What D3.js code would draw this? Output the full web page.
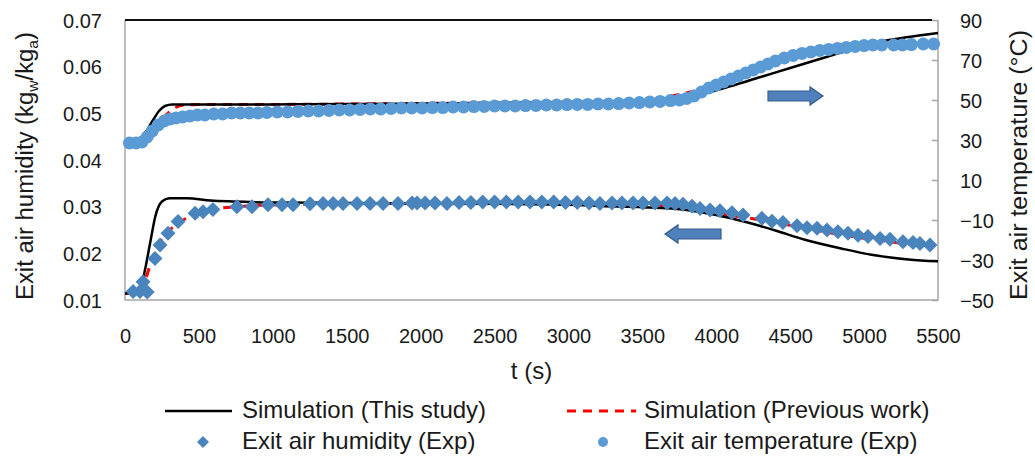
<!DOCTYPE html>
<html>
<head>
<meta charset="utf-8">
<script src="https://cdn.jsdelivr.net/npm/d3@7"></script>
<style>
  html, body { margin: 0; padding: 0; background: #fff; }
  svg { display: block; font-family: 'Liberation Sans', Arial, sans-serif; }
  text { fill: #1a1a1a; }
</style>
</head>
<body>
<svg id="chart" width="1035" height="461"></svg>
<script>
'use strict';
// time ticks
var tTicks = [0, 500, 1000, 1500, 2000, 2500, 3000, 3500, 4000, 4500, 5000, 5500];
var humTicks = [0.01, 0.02, 0.03, 0.04, 0.05, 0.06, 0.07];
var tempTicks = [-50, -30, -10, 10, 30, 50, 70, 90];

// simulation (this study) - humidity
var simHumT = [0, 100, 135, 170, 205, 250, 300, 420, 580, 730, 1000, 1500, 2000, 2500, 3000, 3250, 3500, 3800, 4000, 4200, 4400, 4600, 4850, 5050, 5300, 5500];
var simHum = [0.0114, 0.0118, 0.0164, 0.0222, 0.0279, 0.0311, 0.0318, 0.0318, 0.0313, 0.0311, 0.0309, 0.0308, 0.0307, 0.0306, 0.0304, 0.0301, 0.0299, 0.0293, 0.0282, 0.0267, 0.0249, 0.0229, 0.0210, 0.0197, 0.0187, 0.0183];

// simulation (previous work) - humidity
var prevHumT = [0, 100, 140, 180, 220, 270, 330, 420, 520, 650, 800, 1200, 2000, 3000, 3400, 3700, 3900, 4100, 4300, 4500, 4700, 4900, 5100, 5300, 5500];
var prevHum = [0.0114, 0.0116, 0.0145, 0.0185, 0.0215, 0.0238, 0.0258, 0.0276, 0.0289, 0.0297, 0.0301, 0.0305, 0.0307, 0.0307, 0.0306, 0.0300, 0.0291, 0.0281, 0.0272, 0.0260, 0.0248, 0.0237, 0.0228, 0.0220, 0.0214];

// simulation (this study) - temperature
var simTempT = [0, 60, 110, 150, 190, 230, 270, 320, 400, 600, 1000, 1500, 2000, 2500, 3000, 3400, 3700, 3900, 4100, 4300, 4500, 4700, 4900, 5100, 5300, 5500];
var simTemp = [29.5, 30, 31, 35, 40, 44.5, 47, 47.8, 47.8, 47.8, 47.8, 48, 48.2, 48.5, 49, 49.5, 50.5, 53, 57, 61.5, 66, 70.5, 75, 79, 81.5, 83.5];

// simulation (previous work) - temperature
var prevTempT = [0, 100, 150, 200, 250, 300, 350, 400, 600, 1000, 2000, 3000, 3500, 3700, 3900, 4100, 4300, 4500, 4700, 4900, 5100, 5300, 5500];
var prevTemp = [29.5, 30, 31, 35, 40, 44, 46.5, 47.5, 47.8, 47.8, 48.3, 48.8, 49.5, 52, 55.5, 60.5, 66, 71, 74.5, 76.5, 77.5, 78, 78.5];

// experiment - exit air humidity
var expHumT = [55, 101, 122, 150, 203, 237, 291, 359, 474, 528, 595, 757, 859, 967, 1062, 1137, 1252, 1340, 1408, 1475, 1570, 1658, 1746, 1847, 1942, 1976, 2030, 2097, 2178,
  2260, 2340, 2420, 2500, 2580, 2660, 2740, 2820, 2900, 2980, 3060, 3140,
  3213, 3295, 3362, 3437, 3504, 3585, 3667, 3721, 3775, 3836, 3890, 3958, 4025, 4106, 4181, 4309, 4377, 4451, 4546, 4614, 4682, 4749, 4823, 4891, 4959, 5026, 5108, 5175, 5263, 5331, 5378, 5446];
var expHum = [0.0118, 0.0118, 0.0139, 0.0117, 0.0189, 0.0218, 0.0243, 0.0268, 0.0286, 0.0289, 0.0294, 0.0300, 0.0300, 0.0304, 0.0304, 0.0304, 0.0306, 0.0307, 0.0307, 0.0307, 0.0307, 0.0307, 0.0307, 0.0307, 0.0308, 0.0308, 0.0308, 0.0308, 0.0307,
  0.0309, 0.0309, 0.0310, 0.0310, 0.0310, 0.0310, 0.0310, 0.0310, 0.0310, 0.0309, 0.0309, 0.0308,
  0.0307, 0.0308, 0.0308, 0.0308, 0.0308, 0.0308, 0.0308, 0.0307, 0.0305, 0.0301, 0.0296, 0.0293, 0.0291, 0.0287, 0.0282, 0.0275, 0.0269, 0.0266, 0.0259, 0.0255, 0.0254, 0.0250, 0.0246, 0.0243, 0.0239, 0.0236, 0.0232, 0.0230, 0.0225, 0.0223, 0.0221, 0.0218];

// experiment - exit air temperature
var expTempT = [30, 75, 115, 150, 185, 225, 265, 305, 345, 390, 440, 490, 540, 600, 660, 720, 780, 840, 900, 960, 1030, 1100, 1170, 1240, 1310, 1380, 1450, 1520, 1590, 1660, 1730, 1800, 1870, 1940, 2010, 2080, 2150, 2220, 2290, 2360, 2430, 2500, 2570, 2640, 2710, 2780, 2850, 2920, 2990, 3060, 3130, 3200, 3270, 3340, 3410, 3480, 3550, 3620, 3690, 3750, 3800, 3850, 3900, 3950, 4000, 4050, 4100, 4150, 4200, 4250, 4300, 4350, 4400, 4460, 4520, 4580, 4640, 4700, 4760, 4820, 4880, 4940, 5000, 5060, 5120, 5200, 5260, 5320, 5400, 5470];
var expTemp = [28.5, 28.5, 29, 31.5, 34.5, 37.5, 39.5, 40.5, 41, 41.5, 42, 42.5, 42.5, 43, 43, 43.5, 43.5, 43.5, 43.5, 43.8, 44, 44, 44.3, 44.5, 44.5, 44.8, 45, 45, 45.3, 45.5, 45.5, 45.8, 46, 46, 46, 46.2, 46.2, 46.5, 46.5, 46.7, 46.8, 47, 47, 47, 47.2, 47.3, 47.5, 47.5, 47.7, 47.8, 47.8, 48, 48, 48.2, 48.5, 48.7, 49, 49.3, 49.7, 50, 50.8, 52, 54, 56, 57.5, 59, 60.5, 62, 63.5, 65, 66.5, 68, 69.5, 71, 72.3, 73.3, 74, 74.8, 75.3, 75.8, 76.3, 76.8, 77.2, 77.5, 77.5, 77.5, 77.5, 77.7, 78, 78];

// direction arrows: [t tail, t tip, value]
var arrowTemp = [4350, 4722, 52];
var arrowHum = [4032, 3653, 0.02414];

var legendItems = [
  { label: 'Simulation (This study)', kind: 'line' },
  { label: 'Simulation (Previous work)', kind: 'dash' },
  { label: 'Exit air humidity (Exp)', kind: 'diamond' },
  { label: 'Exit air temperature (Exp)', kind: 'circle' }
];

(() => {
  const left = 125, right = 938, top = 20, bottom = 300;
  const blueC = '#5b9bd5', blueD = '#4a84bd';
  var svg = d3.select('#chart');
  svg.append('rect').attr('width', 1035).attr('height', 461).attr('fill', '#fff');

  var x = d3.scaleLinear().domain([0, 5500]).range([left, right]);
  var yH = d3.scaleLinear().domain([0.01, 0.07]).range([bottom, top]);
  var yT = d3.scaleLinear().domain([-50, 90]).range([bottom, top]);

  // frame
  svg.append('path')
    .attr('d', `M${left},${top}V${bottom}H${right}V${top}`)
    .attr('fill', 'none').attr('stroke', '#a6a6a6').attr('stroke-width', 1.5);
  svg.append('line')
    .attr('x1', left).attr('x2', right - 6).attr('y1', top).attr('y2', top)
    .attr('stroke', '#111').attr('stroke-width', 2);

  // axes
  var gx = svg.append('g').attr('transform', `translate(0,${bottom + 43})`)
    .call(d3.axisBottom(x).tickValues(tTicks).tickSize(0).tickPadding(0).tickFormat(d3.format('d')));
  gx.select('.domain').remove();
  gx.selectAll('text').attr('dy', 0).attr('font-size', 20);

  var gl = svg.append('g').attr('transform', `translate(${left - 23},0)`)
    .call(d3.axisLeft(yH).tickValues(humTicks).tickSize(0).tickPadding(0).tickFormat(d3.format('.2f')));
  gl.select('.domain').remove();
  gl.selectAll('text').attr('font-size', 20).attr('dy', '0.35em');

  var gr = svg.append('g').attr('transform', `translate(${right},0)`)
    .call(d3.axisRight(yT).tickValues(tempTicks).tickSize(-6).tickPadding(28).tickFormat(d3.format('d')));
  gr.select('.domain').remove();
  gr.selectAll('line').attr('stroke', '#a6a6a6').attr('stroke-width', 1.5);
  gr.selectAll('text').attr('font-size', 20).attr('dy', '0.35em').attr('x', 22);
  svg.selectAll('.tick text').attr('fill', '#1a1a1a').attr('font-family', "'Liberation Sans', Arial, sans-serif");

  // axis titles
  var lt = svg.append('text')
    .attr('transform', 'translate(33,166) rotate(-90)')
    .attr('text-anchor', 'middle').attr('font-size', 23)
    .attr('textLength', 268).attr('lengthAdjust', 'spacingAndGlyphs');
  lt.append('tspan').text('Exit air humidity (kg');
  lt.append('tspan').attr('font-size', 15).attr('dy', 5).text('w');
  lt.append('tspan').attr('dy', -5).text('/kg');
  lt.append('tspan').attr('font-size', 15).attr('dy', 5).text('a');
  lt.append('tspan').attr('dy', -5).text(')');

  svg.append('text')
    .attr('transform', 'translate(1027,165) rotate(-90)')
    .attr('text-anchor', 'middle').attr('font-size', 23)
    .attr('textLength', 270).attr('lengthAdjust', 'spacingAndGlyphs')
    .text('Exit air temperature (\u00b0C)');

  svg.append('text').attr('x', (left + right) / 2).attr('y', 379)
    .attr('text-anchor', 'middle').attr('font-size', 24).text('t (s)');

  // lines
  function series(ts, vs) { return ts.map((t, i) => [t, vs[i]]); }
  var lineH = d3.line().x(d => x(d[0])).y(d => yH(d[1])).curve(d3.curveMonotoneX);
  var lineT = d3.line().x(d => x(d[0])).y(d => yT(d[1])).curve(d3.curveMonotoneX);

  var glines = svg.append('g').attr('fill', 'none');
  glines.append('path').attr('d', lineH(series(prevHumT, prevHum)))
    .attr('stroke', '#ff0000').attr('stroke-width', 3).attr('stroke-dasharray', '9,7');
  glines.append('path').attr('d', lineT(series(prevTempT, prevTemp)))
    .attr('stroke', '#ff0000').attr('stroke-width', 3).attr('stroke-dasharray', '9,7');
  glines.append('path').attr('d', lineH(series(simHumT, simHum)))
    .attr('stroke', '#000').attr('stroke-width', 2.5);
  glines.append('path').attr('d', lineT(series(simTempT, simTemp)))
    .attr('stroke', '#000').attr('stroke-width', 2.5);

  // markers
  const dh = 7.5;
  svg.append('g').selectAll('path').data(series(expHumT, expHum)).enter().append('path')
    .attr('d', `M0,${-dh}L${dh},0L0,${dh}L${-dh},0Z`)
    .attr('transform', d => `translate(${x(d[0])},${yH(d[1])})`)
    .attr('fill', blueD);
  svg.append('g').selectAll('circle').data(series(expTempT, expTemp)).enter().append('circle')
    .attr('cx', d => x(d[0])).attr('cy', d => yT(d[1])).attr('r', 6.5)
    .attr('fill', blueC);

  // block arrows
  function blockArrow(x0, x1, yc) {
    var dir = x1 > x0 ? 1 : -1;
    var hx = x1 - dir * 13;
    return `M${x0},${yc - 5}H${hx}V${yc - 9}L${x1},${yc}L${hx},${yc + 9}V${yc + 5}H${x0}Z`;
  }
  svg.append('path').attr('d', blockArrow(x(arrowTemp[0]), x(arrowTemp[1]), yT(arrowTemp[2])))
    .attr('fill', '#4f81bd').attr('stroke', '#385d8a').attr('stroke-width', 1.2);
  svg.append('path').attr('d', blockArrow(x(arrowHum[0]), x(arrowHum[1]), yH(arrowHum[2])))
    .attr('fill', '#4f81bd').attr('stroke', '#385d8a').attr('stroke-width', 1.2);

  // legend
  var legPos = [[165, 411], [567, 411], [165, 442], [567, 442]];
  var gleg = svg.append('g');
  legendItems.forEach((d, i) => {
    var p = legPos[i];
    var g = gleg.append('g').attr('transform', `translate(${p[0]},${p[1]})`);
    if (d.kind === 'line') {
      g.append('line').attr('x1', 0).attr('x2', 67).attr('stroke', '#000').attr('stroke-width', 2.5);
    } else if (d.kind === 'dash') {
      g.append('line').attr('x1', 0).attr('x2', 69).attr('stroke', '#ff0000').attr('stroke-width', 3).attr('stroke-dasharray', '9,7');
    } else if (d.kind === 'diamond') {
      g.append('path').attr('d', 'M38,-6L44,0L38,6L32,0Z').attr('fill', blueD);
    } else {
      g.append('circle').attr('cx', 36).attr('r', 5).attr('fill', blueC);
    }
    g.append('text').attr('x', 77).attr('y', 7).attr('font-size', 24).text(d.label);
  });
})();
</script>
</body>
</html>
